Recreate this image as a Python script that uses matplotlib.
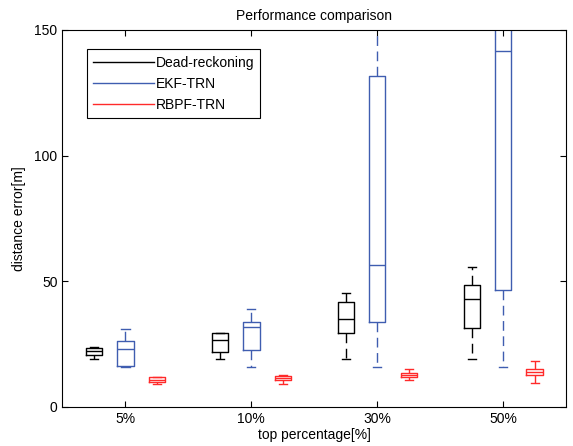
import matplotlib
matplotlib.use("Agg")
import matplotlib.pyplot as plt
from matplotlib.lines import Line2D

plt.rcParams['font.family'] = ['Liberation Sans', 'DejaVu Sans']
plt.rcParams['font.size'] = 10

groups = ['5%', '10%', '30%', '50%']
series = ['Dead-reckoning', 'EKF-TRN', 'RBPF-TRN']
colors = ['black', '#3f5db0', '#ff2a2a']

# box statistics per series: lower whisker, q1, median, q3, upper whisker
dr_lo = [19.0, 19.0, 19.0, 19.0]
dr_q1 = [20.4, 21.8, 29.2, 31.4]
dr_med = [22.2, 26.6, 34.8, 42.9]
dr_q3 = [23.3, 29.2, 41.6, 48.5]
dr_hi = [23.7, 29.2, 45.4, 55.8]

ekf_lo = [15.8, 15.8, 15.8, 15.8]
ekf_q1 = [16.3, 22.6, 33.7, 46.6]
ekf_med = [22.9, 31.9, 56.5, 141.7]
ekf_q3 = [26.1, 33.9, 131.6, 190.0]
ekf_hi = [31.1, 38.9, 210.0, 260.0]

rb_lo = [9.2, 9.2, 10.6, 9.3]
rb_q1 = [9.7, 10.6, 11.7, 12.5]
rb_med = [10.5, 11.4, 12.5, 13.7]
rb_q3 = [11.7, 12.2, 13.3, 14.9]
rb_hi = [11.9, 12.6, 14.9, 18.2]

stats = [
    (dr_lo, dr_q1, dr_med, dr_q3, dr_hi),
    (ekf_lo, ekf_q1, ekf_med, ekf_q3, ekf_hi),
    (rb_lo, rb_q1, rb_med, rb_q3, rb_hi),
]
offsets = [-0.25, 0.0, 0.25]

fig = plt.figure(figsize=(5.73, 4.46), dpi=100)
ax = fig.add_axes([0.109, 0.088, 0.879, 0.845])

for (lo, q1, med, q3, hi), off, c in zip(stats, offsets, colors):
    bx = []
    for i in range(len(groups)):
        bx.append({'whislo': lo[i], 'q1': q1[i], 'med': med[i],
                   'q3': q3[i], 'whishi': hi[i], 'fliers': []})
    pos = [i + 1 + off for i in range(len(groups))]
    ax.bxp(bx, positions=pos, widths=0.13, showfliers=False,
           boxprops=dict(color=c, linewidth=1.0),
           medianprops=dict(color=c, linewidth=1.0),
           whiskerprops=dict(color=c, linewidth=1.0, linestyle=(0, (7, 4))),
           capprops=dict(color=c, linewidth=1.0),
           manage_ticks=False)

ax.set_xlim(0.5, 4.5)
ax.set_ylim(0, 150)
ax.set_xticks(range(1, len(groups) + 1))
ax.set_xticklabels(groups)
ax.set_yticks([0, 50, 100, 150])
ax.tick_params(direction='in', top=True, right=True, length=4, labelsize=10)
for s in ax.spines.values():
    s.set_linewidth(0.8)

ax.set_title('Performance comparison', fontsize=10, pad=7)
ax.set_xlabel('top percentage[%]', fontsize=10, labelpad=2)
ax.set_ylabel('distance error[m]', fontsize=10, labelpad=6)

handles = [Line2D([], [], color=c, linewidth=1.0) for c in colors]
leg = ax.legend(handles, series, loc='upper left', bbox_to_anchor=(0.048, 0.948),
                borderaxespad=0, fancybox=False, framealpha=1, edgecolor='black',
                handlelength=4.4, handletextpad=0.1, borderpad=0.45,
                labelspacing=0.5, fontsize=10)
leg.get_frame().set_linewidth(0.8)

fig.savefig('out.png', dpi=100)
